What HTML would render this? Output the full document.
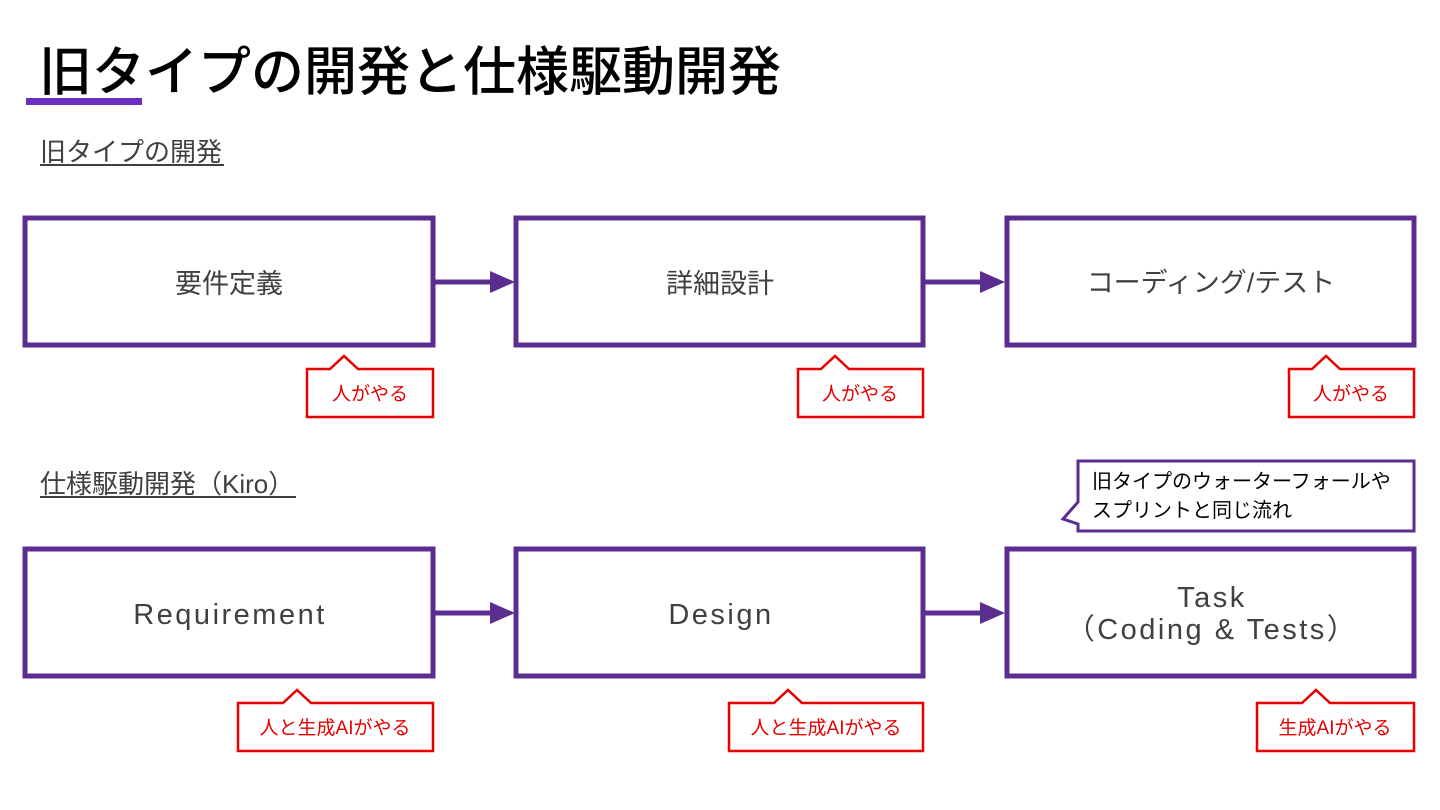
<!DOCTYPE html>
<html><head><meta charset="utf-8"><style>
html,body{margin:0;padding:0;background:#fff;}
svg{display:block;}
text{font-family:"Liberation Sans","Noto Sans CJK JP",sans-serif;}
</style></head><body>
<svg width="1440" height="810" viewBox="0 0 1440 810" xmlns="http://www.w3.org/2000/svg">
<text x="39" y="90" font-size="53" font-weight="500" fill="#000">旧タイプの開発と仕様駆動開発</text>
<rect x="26" y="98" width="116" height="7" fill="#6a2ec0"/>
<text x="40" y="161" font-size="26" fill="#404040">旧タイプの開発</text>
<rect x="40" y="164" width="184" height="2" fill="#404040"/>
<text x="40" y="493" font-size="26" fill="#404040">仕様駆動開発（Kiro）</text>
<rect x="40" y="496" width="256" height="2" fill="#404040"/>

<g fill="none" stroke="#5b2d91" stroke-width="5">
<rect x="25" y="218" width="408" height="127"/>
<rect x="516" y="218" width="407" height="127"/>
<rect x="1007" y="218" width="407" height="127"/>
<rect x="25" y="549" width="408" height="127"/>
<rect x="516" y="549" width="407" height="127"/>
<rect x="1007" y="549" width="407" height="127"/>
<line x1="434" y1="282" x2="495" y2="282"/>
<line x1="924" y1="282" x2="985" y2="282"/>
<line x1="434" y1="613" x2="495" y2="613"/>
<line x1="924" y1="613" x2="985" y2="613"/>
</g>
<g fill="#5b2d91">
<polygon points="490,271 515,282 490,293"/>
<polygon points="980,271 1005,282 980,293"/>
<polygon points="490,602 515,613 490,624"/>
<polygon points="980,602 1005,613 980,624"/>
</g>
<g font-size="27" fill="#404040" text-anchor="middle">
<text x="229" y="293">要件定義</text>
<text x="720" y="293">詳細設計</text>
<text x="1211" y="292">コーディング/テスト</text>
</g>
<g font-size="29" fill="#404040" text-anchor="middle" letter-spacing="2.5">
<text x="230" y="624">Requirement</text>
<text x="721" y="624">Design</text>
<text x="1212" y="607">Task</text>
<text x="1212" y="639">（Coding &amp; Tests）</text>
</g>

<g fill="#fff" stroke="#e60000" stroke-width="2.5">
<path d="M307 369 H330 L344 356 L358 369 H433 V417 H307 Z"/>
<path d="M798 369 H821 L835 356 L849 369 H923 V417 H798 Z"/>
<path d="M1289 369 H1312 L1326 356 L1340 369 H1414 V417 H1289 Z"/>
<path d="M238 703 H283 L297 690 L311 703 H433 V751 H238 Z"/>
<path d="M729 703 H774 L788 690 L802 703 H923 V751 H729 Z"/>
<path d="M1257 703 H1302 L1316 690 L1330 703 H1414 V751 H1257 Z"/>
</g>
<g font-size="19" fill="#e60000" text-anchor="middle">
<text x="370" y="400">人がやる</text>
<text x="860" y="400">人がやる</text>
<text x="1351" y="400">人がやる</text>
<text x="335" y="734">人と生成AIがやる</text>
<text x="826" y="734">人と生成AIがやる</text>
<text x="1335" y="734">生成AIがやる</text>
</g>

<path d="M1078 461 H1414 V531 H1078 V524 L1063 519 L1078 502 Z" fill="#fff" stroke="#5b2d91" stroke-width="3"/>
<text x="1092" y="488" font-size="20" fill="#000">旧タイプのウォーターフォールや</text>
<text x="1092" y="517" font-size="20" fill="#000">スプリントと同じ流れ</text>
</svg>
</body></html>
